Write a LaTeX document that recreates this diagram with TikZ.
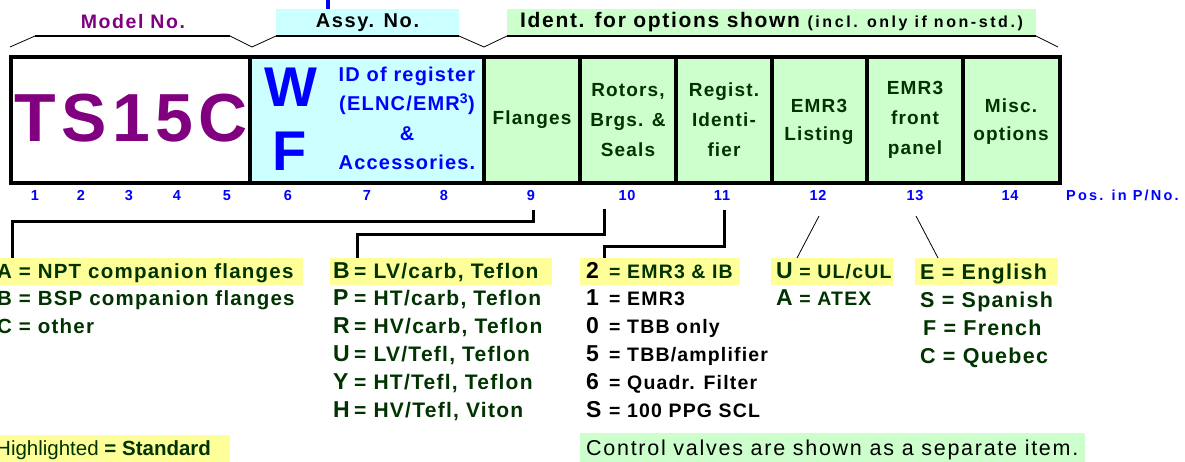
\documentclass[tikz,border=0pt]{standalone}
\usepackage{fontspec}
\setmainfont{Liberation Sans}
\newfontfamily\lsfont[LetterSpace=6]{Liberation Sans}
\newfontfamily\lswide[LetterSpace=15]{Liberation Sans}
\newfontfamily\lsbig[LetterSpace=8]{Liberation Sans}
\newfontfamily\lsparen[LetterSpace=16]{Liberation Sans}
\definecolor{purp}{HTML}{800080}
\definecolor{cyanfill}{HTML}{CCFFFF}
\definecolor{greenfill}{HTML}{CCFFCC}
\definecolor{yel}{HTML}{FFFF99}
\definecolor{dgreen}{HTML}{003300}
\definecolor{pblue}{HTML}{0000FF}
\tikzset{
  cell/.style={draw=black, line width=4pt, minimum height=126pt, inner sep=0pt, outer sep=0pt, anchor=west},
  celltext/.style={text=dgreen, font={\fontsize{19}{30}\selectfont\lsfont\bfseries}, align=center, inner sep=0pt},
  num/.style={text=pblue, font={\fontsize{14.5}{14.5}\selectfont\lsfont\bfseries}, inner sep=0pt, anchor=base},
  hl/.style={fill=yel, draw=none, inner sep=0pt, outer sep=0pt, anchor=north west},
  lbl/.style={draw=none, inner sep=0pt, outer sep=0pt, minimum height=27pt},
  listtxt/.style={text=dgreen, font={\fontsize{20.5}{20.5}\selectfont\lsfont\bfseries}, anchor=base west, inner sep=0pt},
  listB/.style={listtxt, font={\fontsize{21}{21}\selectfont\lsfont\bfseries}},
  listC/.style={listtxt, font={\fontsize{19.5}{19.5}\selectfont\lsfont\bfseries}},
  listE/.style={listtxt, font={\fontsize{21.5}{21.5}\selectfont\lsfont\bfseries}},
  conn/.style={draw=black, line width=3pt},
  slim/.style={draw=black, line width=0.8pt},
  braceh/.style={draw=black, line width=2pt},
}
\newcommand{\keyB}[1]{\makebox[21pt][l]{\fontsize{23}{23}\selectfont #1}}
\newcommand{\keyC}[1]{\makebox[23pt][l]{\color{black}\fontsize{23}{23}\selectfont #1}}
\begin{document}
\begin{tikzpicture}[x=1pt,y=-1pt]
\useasboundingbox (0,0) rectangle (1185,462);
% header labels
\node[text=purp, font={\fontsize{19.5}{19.5}\selectfont\lsbig\bfseries}, inner sep=0pt] (model) at (133,22) {Model No.};
\node[lbl, fill=cyanfill, minimum width=183pt, font={\fontsize{20}{20}\selectfont\lsbig\bfseries}] (assy) at (367.5,22.5) {Assy. No.};
\node[lbl, fill=greenfill, minimum width=529pt, font={\fontsize{21}{21}\selectfont\lsbig\bfseries}] (ident) at (771.5,22.5) {Ident. for options shown {\fontsize{16}{16}\selectfont\lsparen\bfseries (incl. only if non-std.)}};
\coordinate (tick) at (328,0);
\draw[pblue, line width=4pt] (tick) -- (tick |- assy.north);
% braces
\coordinate (b0) at (10,47);
\coordinate (b1) at (35,36);
\coordinate (b2) at (230,36);
\coordinate (b3) at (252,47);
\coordinate (b4) at (484,47);
\coordinate (b5) at (1058,47);
\draw[slim] (b0) -- (b1);
\draw[braceh] (b1) -- (b2);
\draw[slim] (b2) -- (b3) -- (assy.south west);
\draw[braceh] (assy.south west) -- (assy.south east);
\draw[slim] (assy.south east) -- (b4) -- (ident.south west);
\draw[braceh] (ident.south west) -- (ident.south east);
\draw[slim] (ident.south east) -- (b5);
% main cells
\node[cell, fill=white, minimum width=239pt] (c1) at (11,120) {};
\node[cell, fill=cyanfill, minimum width=234pt] (c2) at (250,120) {};
\node[cell, fill=greenfill, minimum width=96pt] (c3) at (484,120) {};
\node[cell, fill=greenfill, minimum width=96pt] (c4) at (580,120) {};
\node[cell, fill=greenfill, minimum width=95.5pt] (c5) at (676,120) {};
\node[cell, fill=greenfill, minimum width=95pt] (c6) at (771.5,120) {};
\node[cell, fill=greenfill, minimum width=96.5pt] (c7) at (866.5,120) {};
\node[cell, fill=greenfill, minimum width=97pt] (c8) at (963,120) {};
% cell texts
\node[text=purp, font={\fontsize{68}{68}\selectfont\lsbig\bfseries}, inner sep=0pt] (tstext) at (131,118) {TS15C};
\node[text=pblue, font={\fontsize{56}{56}\selectfont\bfseries}, inner sep=0pt] (wletter) at (291,87) {W};
\node[text=pblue, font={\fontsize{56}{56}\selectfont\bfseries}, inner sep=0pt] (fletter) at (290,151) {F};
\node[text=pblue, font={\fontsize{20}{29.5}\selectfont\lsfont\bfseries}, align=center, inner sep=0pt] (idtext) at (407,118.5) {ID of register\\(ELNC/EMR\textsuperscript{3})\\\&\\Accessories.};
\node[celltext] (t3) at (532,120) {Flanges};
\node[celltext] (t4) at (628,120) {Rotors,\\Brgs. \&\\Seals};
\node[celltext] (t5) at (724,120) {Regist.\\Identi-\\fier};
\node[celltext, font={\fontsize{19}{28}\selectfont\lsfont\bfseries}] (t6) at (819,121.5) {EMR3\\Listing};
\node[celltext] (t7) at (915,120) {EMR3\\front\\panel};
\node[celltext, font={\fontsize{19}{28}\selectfont\lsfont\bfseries}] (t8) at (1011,121.5) {Misc.\\options};
% position numbers
\node[num] (n1) at (35,201) {1};
\node[num] (n2) at (81,201) {2};
\node[num] (n3) at (129,201) {3};
\node[num] (n4) at (177,201) {4};
\node[num] (n5) at (227,201) {5};
\node[num] (n6) at (288,201) {6};
\node[num] (n7) at (367,201) {7};
\node[num] (n8) at (444,201) {8};
\node[num] (n9) at (531,201) {9};
\node[num] (n10) at (627,201) {10};
\node[num] (n11) at (722,201) {11};
\node[num] (n12) at (818,201) {12};
\node[num] (n13) at (915,201) {13};
\node[num] (n14) at (1010,201) {14};
\node[num, anchor=base west, font={\fontsize{14.5}{14.5}\selectfont\lswide\bfseries}] (pos) at (1066,201) {Pos. in P/No.};
% highlights
\node[hl, minimum width=303pt, minimum height=27pt] (hlA) at (0,258) {};
\node[hl, minimum width=222pt, minimum height=27pt] (hlB) at (330,258) {};
\node[hl, minimum width=160pt, minimum height=27pt] (hlC) at (580,258) {};
\node[hl, minimum width=122pt, minimum height=27pt] (hlD) at (771,258) {};
\node[hl, minimum width=143pt, minimum height=27pt] (hlE) at (915,258) {};
\node[hl, minimum width=230pt, minimum height=27pt] (hlS) at (0,435) {};
\node[hl, fill=greenfill, minimum width=505pt, minimum height=29pt] (hlN) at (580,433) {};
% connectors
\coordinate (k9) at (533,210);
\coordinate (j9) at (12,222);
\draw[conn] (k9) |- (j9) -- (j9 |- hlA.north);
\coordinate (k10) at (604,209);
\coordinate (j10) at (357,235);
\draw[conn] (k10) |- (j10) -- (j10 |- hlB.north);
\coordinate (k11) at (724,210);
\coordinate (j11) at (604,247);
\draw[conn] (k11) |- (j11) -- (j11 |- hlC.north);
\coordinate (k12) at (819,216);
\coordinate (j12) at (797,258);
\draw[slim] (k12) -- (j12);
\coordinate (k13) at (916,216);
\coordinate (j13) at (938,258);
\draw[slim] (k13) -- (j13);
% column A
\node[listtxt] (a1) at (-3,278) {A = NPT companion flanges};
\node[listtxt] (a2) at (-3,305.5) {B = BSP companion flanges};
\node[listtxt] (a3) at (-3,333) {C = other};
% column B
\node[listB] (r1) at (333,278) {\keyB{B}= LV/carb, Teflon};
\node[listB] (r2) at (333,305.5) {\keyB{P}= HT/carb, Teflon};
\node[listB] (r3) at (333,333) {\keyB{R}= HV/carb, Teflon};
\node[listB] (r4) at (333,361) {\keyB{U}= LV/Tefl, Teflon};
\node[listB] (r5) at (333,389) {\keyB{Y}= HT/Tefl, Teflon};
\node[listB] (r6) at (333,417) {\keyB{H}= HV/Tefl, Viton};
% column C
\node[listC] (g1) at (586,278) {\keyC{2}= EMR3 \& IB};
\node[listC, text=black] (g2) at (586,305.5) {\keyC{1}= EMR3};
\node[listC, text=black] (g3) at (586,333) {\keyC{0}= TBB only};
\node[listC, text=black] (g4) at (586,361) {\keyC{5}= TBB/amplifier};
\node[listC, text=black] (g5) at (586,389) {\keyC{6}= Quadr. Filter};
\node[listC, text=black] (g6) at (586,417) {\keyC{S}= 100 PPG SCL};
% column D
\node[listtxt, font={\fontsize{19.5}{19.5}\selectfont\lsfont\bfseries}] (d1) at (776,278) {{\fontsize{23}{23}\selectfont U} = UL/cUL};
\node[listtxt, font={\fontsize{19.5}{19.5}\selectfont\lsfont\bfseries}] (d2) at (776,305.5) {{\fontsize{23}{23}\selectfont A} = ATEX};
% column E
\node[listE] (e1) at (920,279) {E = English};
\node[listE] (e2) at (920,307) {S = Spanish};
\node[listE] (e3) at (923,335) {F = French};
\node[listE] (e4) at (920,363) {C = Quebec};
% notes
\node[listtxt, font={\fontsize{20.5}{20.5}\selectfont}] (std) at (-4,455) {Highlighted \textbf{= Standard}};
\node[listtxt, text=black, font={\fontsize{21.5}{21.5}\selectfont\lsbig}] (note) at (586,455) {Control valves are shown as a separate item.};
\end{tikzpicture}
\end{document}
